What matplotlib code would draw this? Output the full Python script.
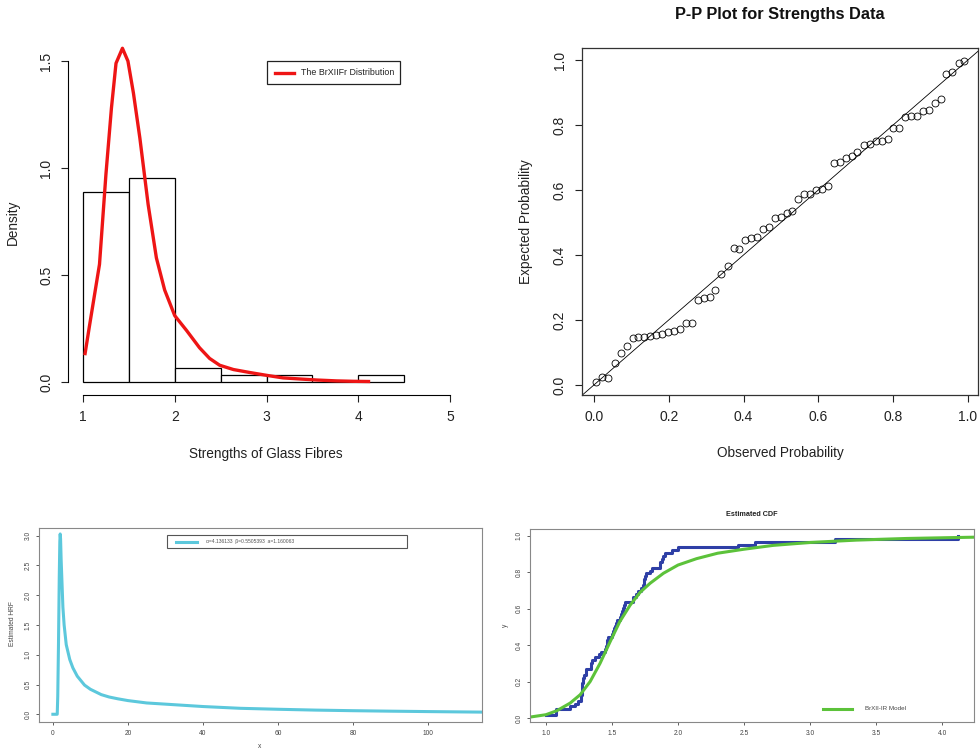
import numpy as np
import matplotlib
matplotlib.use('Agg')
import matplotlib.pyplot as plt
from matplotlib.patches import Rectangle
from matplotlib.lines import Line2D

plt.rcParams['font.family'] = ['Liberation Sans', 'DejaVu Sans']

# glass fibre strengths (sorted)
strengths = [1.00, 1.078, 1.078, 1.184, 1.22, 1.247, 1.265, 1.268, 1.27, 1.272,
             1.275, 1.277, 1.28, 1.28, 1.285, 1.30, 1.30, 1.34, 1.345, 1.35,
             1.37, 1.40, 1.42, 1.45, 1.456, 1.46, 1.465, 1.47, 1.502, 1.505,
             1.515, 1.52, 1.53, 1.535, 1.56, 1.57, 1.575, 1.587, 1.595, 1.60,
             1.66, 1.663, 1.68, 1.70, 1.718, 1.733, 1.74, 1.744, 1.75, 1.756,
             1.79, 1.80, 1.86, 1.865, 1.877, 1.89, 1.90, 1.953, 2.003, 2.457,
             2.583, 3.188, 4.12]
hist_bins = [1.0, 1.5, 2.0, 2.5, 3.0, 3.5, 4.0, 4.5]

# fitted density
pdf_x = [1.02, 1.07, 1.18, 1.25, 1.31, 1.36, 1.43, 1.49, 1.55, 1.62, 1.71, 1.80,
         1.89, 2.0, 2.13, 2.27, 2.38, 2.49, 2.64, 2.82, 3.0, 3.18, 3.36, 3.55,
         3.76, 3.95, 4.13]
pdf_y = [0.125, 0.26, 0.55, 0.97, 1.28, 1.49, 1.56, 1.50, 1.35, 1.14, 0.83, 0.58,
         0.43, 0.31, 0.24, 0.16, 0.11, 0.078, 0.058, 0.044, 0.031, 0.019, 0.014,
         0.009, 0.005, 0.003, 0.002]

# P-P plot
pp_observed = [0.006, 0.022, 0.0375, 0.055, 0.071, 0.0875, 0.104, 0.118, 0.135, 0.151,
               0.167, 0.182, 0.198, 0.213, 0.23, 0.247, 0.261, 0.277, 0.293, 0.309,
               0.325, 0.341, 0.358, 0.375, 0.388, 0.404, 0.419, 0.435, 0.452, 0.467,
               0.484, 0.50, 0.515, 0.529, 0.546, 0.5625, 0.579, 0.595, 0.611, 0.627,
               0.643, 0.659, 0.674, 0.689, 0.704, 0.722, 0.737, 0.754, 0.77, 0.786,
               0.801, 0.816, 0.832, 0.847, 0.863, 0.881, 0.897, 0.9125, 0.929, 0.942,
               0.957, 0.975, 0.99]
pp_expected = [0.008, 0.024, 0.021, 0.069, 0.099, 0.121, 0.144, 0.147, 0.149, 0.151,
               0.154, 0.157, 0.164, 0.166, 0.172, 0.19, 0.192, 0.262, 0.267, 0.272,
               0.292, 0.342, 0.367, 0.42, 0.418, 0.446, 0.451, 0.454, 0.48, 0.487,
               0.513, 0.516, 0.528, 0.536, 0.572, 0.587, 0.587, 0.60, 0.603, 0.613,
               0.682, 0.686, 0.699, 0.705, 0.716, 0.738, 0.741, 0.75, 0.752, 0.758,
               0.79, 0.79, 0.825, 0.829, 0.829, 0.843, 0.846, 0.867, 0.88, 0.957,
               0.964, 0.99, 0.997]

# estimated hazard rate
hrf_x = [0, 1.16, 1.3, 1.5, 1.7, 1.85, 1.95, 2.05, 2.2, 2.67, 3.0, 3.56, 4.5, 5.33,
         6.5, 8.44, 10, 12.9, 15, 17.3, 20, 25, 30, 40, 50, 60, 70, 80, 90, 100, 114.6]
hrf_y = [0, 0, 0.3, 1.2, 2.3, 2.9, 3.03, 2.95, 2.6, 1.8, 1.5, 1.17, 0.92, 0.78,
         0.64, 0.49, 0.42, 0.33, 0.29, 0.26, 0.23, 0.19, 0.17, 0.13, 0.10, 0.084,
         0.07, 0.06, 0.052, 0.045, 0.036]
hrf_label = 'α=4.136133  β=0.5505393  a=1.160063'

# fitted cdf
cdf_x = [0.88, 1.0, 1.083, 1.184, 1.26, 1.335, 1.41, 1.487, 1.56, 1.638, 1.713,
         1.789, 1.89, 2.0, 2.14, 2.3, 2.5, 2.72, 3.0, 3.35, 3.73, 4.24]
cdf_y = [0.005, 0.018, 0.04, 0.082, 0.128, 0.2, 0.3, 0.42, 0.53, 0.62, 0.69,
         0.74, 0.795, 0.84, 0.875, 0.905, 0.927, 0.948, 0.964, 0.977, 0.986, 0.993]

W, H = 980, 751


def box(l, t, r, b):
    return [l / W, 1 - b / H, (r - l) / W, (b - t) / H]


def fx(x):
    return x / W


def fy(y):
    return 1 - y / H


fig = plt.figure(figsize=(9.8, 7.51), dpi=100)

# ---------- top left: histogram + density ----------
ax1 = fig.add_axes(box(68.3, 44, 464.7, 395))
ax1.hist(strengths, bins=hist_bins, density=True, facecolor='white',
         edgecolor='black', linewidth=0.9)
ax1.plot(pdf_x, pdf_y, color='#ee1515', lw=2.4, solid_capstyle='butt')
ax1.set_xlim(0.84, 5.16)
ax1.set_ylim(-0.061, 1.58)
ax1.spines['top'].set_visible(False)
ax1.spines['right'].set_visible(False)
ax1.spines['left'].set_bounds(0, 1.5)
ax1.spines['bottom'].set_bounds(1, 5)
ax1.set_xticks([1, 2, 3, 4, 5])
ax1.set_yticks([0, 0.5, 1.0, 1.5], ['0.0', '0.5', '1.0', '1.5'], rotation=90, va='center')
ax1.tick_params(length=5, width=0.8, pad=6, labelsize=10, colors='#222222')
fig.text(fx(266), fy(454), 'Strengths of Glass Fibres', ha='center', va='center',
         fontsize=9.8, color='#222222')
fig.text(fx(13), fy(222), 'Density', ha='center', va='center', rotation=90,
         fontsize=9.8, color='#222222')
fig.add_artist(Rectangle((fx(267), fy(84)), (400 - 267) / W, (84 - 61) / H,
                         transform=fig.transFigure, fill=False, ec='#222222', lw=0.9))
fig.add_artist(Line2D([fx(275), fx(294)], [fy(72.5), fy(72.5)], transform=fig.transFigure,
                      color='#ee1515', lw=2.4))
fig.text(fx(301), fy(72.5), 'The BrXIIFr Distribution', va='center', fontsize=6.4,
         color='#222222')

# ---------- top right: P-P plot ----------
ax2 = fig.add_axes(box(582, 48, 978, 395))
ax2.plot([-0.1, 1.1], [-0.1, 1.1], color='black', lw=0.6)
ax2.plot(pp_observed, pp_expected, 'o', mfc='none', mec='black', ms=5, mew=0.6)
ax2.set_xlim(-0.032, 1.027)
ax2.set_ylim(-0.031, 1.037)
ticks = [0, 0.2, 0.4, 0.6, 0.8, 1.0]
tlabels = ['0.0', '0.2', '0.4', '0.6', '0.8', '1.0']
ax2.set_xticks(ticks, tlabels)
ax2.set_yticks(ticks, tlabels, rotation=90, va='center')
ax2.tick_params(length=5, width=0.8, pad=6, labelsize=10, colors='#222222')
for s in ax2.spines.values():
    s.set_linewidth(0.9)
    s.set_color('#333333')
fig.text(fx(780), fy(15), 'P-P Plot for Strengths Data', ha='center', va='center',
         fontsize=11.8, fontweight='bold', color='#111111')
fig.text(fx(780), fy(453), 'Observed Probability', ha='center', va='center',
         fontsize=9.8, color='#222222')
fig.text(fx(526), fy(222), 'Expected Probability', ha='center', va='center',
         rotation=90, fontsize=9.8, color='#222222')

# ---------- bottom left: hazard rate ----------
ax3 = fig.add_axes(box(39, 528, 482, 722))
ax3.plot(hrf_x, hrf_y, color='#5cc8dc', lw=2.2)
ax3.set_xlim(-3.7, 114.4)
ax3.set_ylim(-0.13, 3.13)
ax3.set_xticks([0, 20, 40, 60, 80, 100])
ax3.set_yticks([0, 0.5, 1, 1.5, 2, 2.5, 3],
               ['0.0', '0.5', '1.0', '1.5', '2.0', '2.5', '3.0'], rotation=90, va='center')
ax3.tick_params(length=2.5, width=0.6, pad=3, labelsize=4.8, colors='#444444')
for s in ax3.spines.values():
    s.set_linewidth(0.8)
    s.set_color('#888888')
fig.text(fx(260), fy(746), 'x', ha='center', va='center', fontsize=4.8, color='#444444')
fig.text(fx(13), fy(624), 'Estimated HRF', ha='center', va='center', rotation=90,
         fontsize=4.8, color='#444444')
fig.add_artist(Rectangle((fx(167), fy(548)), (407 - 167) / W, (548 - 535) / H,
                         transform=fig.transFigure, fill=False, ec='#555555', lw=0.8))
fig.add_artist(Line2D([fx(176), fx(197)], [fy(541.5), fy(541.5)], transform=fig.transFigure,
                      color='#5cc8dc', lw=2.2))
fig.text(fx(206), fy(541.5), hrf_label, va='center', fontsize=3.6, color='#555555')

# ---------- bottom right: estimated cdf ----------
ax4 = fig.add_axes(box(530, 529, 974, 722))
ecdf_y = np.arange(1, len(strengths) + 1) / len(strengths)
ax4.step(strengths, ecdf_y, where='post', color='#2e3fa6', lw=2.2)
ax4.plot(cdf_x, cdf_y, color='#5cc23a', lw=2.2)
ax4.set_xlim(0.88, 4.24)
ax4.set_ylim(-0.022, 1.038)
ax4.set_xticks([1.0, 1.5, 2.0, 2.5, 3.0, 3.5, 4.0],
               ['1.0', '1.5', '2.0', '2.5', '3.0', '3.5', '4.0'])
ax4.set_yticks(ticks, tlabels, rotation=90, va='center')
ax4.tick_params(length=2.5, width=0.6, pad=3, labelsize=4.8, colors='#444444')
for s in ax4.spines.values():
    s.set_linewidth(0.8)
    s.set_color('#888888')
fig.text(fx(752), fy(514), 'Estimated CDF', ha='center', va='center', fontsize=5.2,
         fontweight='bold', color='#222222')
fig.text(fx(505), fy(625), 'y', ha='center', va='center', rotation=90, fontsize=4.8,
         color='#444444')
fig.add_artist(Line2D([fx(823), fx(852)], [fy(709), fy(709)], transform=fig.transFigure,
                      color='#5cc23a', lw=2.2))
fig.text(fx(865), fy(709), 'BrXII-IR Model', va='center', fontsize=4.5, color='#444444')

fig.savefig('out.png', dpi=100)
